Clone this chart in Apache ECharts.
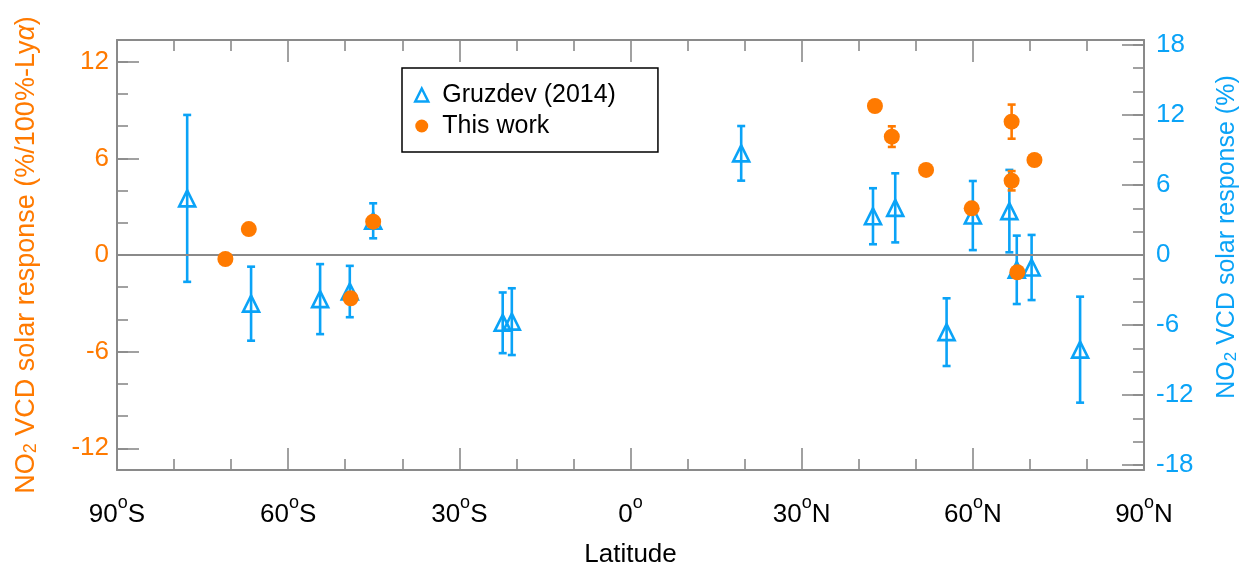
<!DOCTYPE html>
<html>
<head>
<meta charset="utf-8">
<script src="https://cdn.jsdelivr.net/npm/echarts@6/dist/echarts.min.js"></script>
<style>
html,body{margin:0;padding:0;background:#fff;}
#chart{width:1246px;height:571px;}
</style>
</head>
<body>
<div id="chart"></div>
<script>
// ---- Data ----
const gruzLat = [-77.7, -66.5, -54.4, -49.2, -45.1, -22.4, -20.8, 19.4, 42.5, 46.4, 55.4, 60.0, 66.4, 67.7, 70.3, 78.8];
const gruzVal = [4.85, -4.17, -3.78, -3.13, 2.93, -5.81, -5.71, 8.71, 3.32, 4.04, -6.61, 3.38, 3.76, -1.27, -1.07, -8.11];
const gruzErr = [7.15, 3.17, 3.0, 2.2, 1.5, 2.6, 2.86, 2.34, 2.4, 2.96, 2.9, 2.96, 3.53, 2.93, 2.79, 4.54];

const workLat = [-71.0, -66.9, -49.05, -45.1, 42.84, 45.8, 51.8, 59.8, 66.8, 66.8, 70.8, 67.8];
const workVal = [-0.25, 1.61, -2.69, 2.07, 9.25, 7.35, 5.28, 2.9, 8.28, 4.61, 5.9, -1.07];
const workErr = [0, 0, 0, 0, 0, 0.64, 0, 0, 1.06, 0.6, 0, 0];

const leftLabels = [-12, -6, 0, 6, 12];
const leftMinorTicks = [-12, -10, -8, -6, -4, -2, 0, 2, 4, 6, 8, 10, 12];
const rightLabels = [-18, -12, -6, 0, 6, 12, 18];
const rightMinorTicks = [-18, -16, -14, -12, -10, -8, -6, -4, -2, 0, 2, 4, 6, 8, 10, 12, 14, 16, 18];

const seriesNames = ['Gruzdev (2014)', 'This work'];

// ---- Styles ----
const ORANGE = '#FF7A00';
const BLUE = '#0AA3F7';
const GRAY = '#8a8a8a';
const FONT = '"Liberation Sans", Arial, Helvetica, sans-serif';

function latLabel(v) {
  if (v < 0) return '{n|' + (-v) + '}{o|o}{n|S}';
  if (v > 0) return '{n|' + v + '}{o|o}{n|N}';
  return '{n|0}{o|o}';
}

function errRender(color) {
  return function (params, api) {
    const x = api.value(0), v = api.value(1), e = api.value(2);
    if (!e) return null;
    const top = api.coord([x, v + e]);
    const bot = api.coord([x, v - e]);
    const cw = 4;
    const st = { stroke: color, lineWidth: 2.6 };
    return {
      type: 'group',
      children: [
        { type: 'line', shape: { x1: top[0], y1: top[1], x2: bot[0], y2: bot[1] }, style: st },
        { type: 'line', shape: { x1: top[0] - cw, y1: top[1], x2: top[0] + cw, y2: top[1] }, style: st },
        { type: 'line', shape: { x1: bot[0] - cw, y1: bot[1], x2: bot[0] + cw, y2: bot[1] }, style: st }
      ]
    };
  };
}

const chart = echarts.init(document.getElementById('chart'), null, { renderer: 'canvas' });

const tickStyle = { color: GRAY, width: 1.6 };

const option = {
  backgroundColor: '#fff',
  animation: false,
  textStyle: { fontFamily: FONT },
  grid: { left: 117, right: 102, top: 40, bottom: 101, containLabel: false, outerBoundsMode: 'none' },
  legend: {
    left: 402, top: 68,
    orient: 'vertical',
    padding: [13, 42, 12, 12],
    itemGap: 3,
    itemWidth: 13, itemHeight: 13,
    borderColor: '#000', borderWidth: 1.5, borderRadius: 0,
    backgroundColor: '#fff',
    textStyle: { fontSize: 25, color: '#000', fontFamily: FONT, lineHeight: 28, padding: [0, 0, 0, 9] },
    data: [
      { name: seriesNames[0], icon: 'triangle', itemStyle: { color: 'rgba(0,0,0,0)', borderColor: BLUE, borderWidth: 2.5 } },
      { name: seriesNames[1], icon: 'circle', itemStyle: { color: ORANGE, borderWidth: 0 } }
    ]
  },
  xAxis: [
    {
      type: 'value', position: 'bottom', min: -90, max: 90, interval: 30,
      name: 'Latitude', nameLocation: 'middle', nameGap: 72,
      nameTextStyle: { fontSize: 26, color: '#000', fontFamily: FONT },
      axisLine: { show: true, onZero: false, lineStyle: { color: GRAY, width: 2 } },
      axisTick: { show: true, inside: true, length: 22, lineStyle: tickStyle },
      minorTick: { show: true, splitNumber: 3, length: 11, lineStyle: tickStyle },
      axisLabel: {
        formatter: latLabel, margin: 24,
        rich: {
          n: { fontSize: 26, color: '#000', fontFamily: FONT, lineHeight: 34, verticalAlign: 'bottom' },
          o: { fontSize: 18, color: '#000', fontFamily: FONT, lineHeight: 18, padding: [0, 0, 16, 0], verticalAlign: 'bottom' }
        }
      },
      splitLine: { show: false }
    },
    {
      type: 'value', position: 'top', min: -90, max: 90, interval: 30,
      axisLine: { show: true, onZero: false, lineStyle: { color: GRAY, width: 2 } },
      axisTick: { show: true, inside: true, length: 22, lineStyle: tickStyle },
      minorTick: { show: true, splitNumber: 3, length: 11, lineStyle: tickStyle },
      axisLabel: { show: false },
      splitLine: { show: false }
    }
  ],
  yAxis: [
    {
      type: 'value', position: 'left', min: -13.35, max: 13.35,
      name: 'NO{sub|2} VCD solar response (%/100%-Ly{g|α})',
      nameLocation: 'middle', nameGap: 77, nameRotate: 90,
      nameTextStyle: {
        fontSize: 27, color: ORANGE, fontFamily: FONT,
        rich: {
          sub: { fontSize: 18, color: ORANGE, fontFamily: FONT, lineHeight: 18, padding: [18, 0, 0, 0], verticalAlign: 'bottom' },
          g: { fontSize: 27, color: ORANGE, fontFamily: FONT, fontStyle: 'italic' }
        }
      },
      axisLine: { show: true, onZero: false, lineStyle: { color: GRAY, width: 2 } },
      axisTick: { show: true, inside: true, length: 11, lineStyle: tickStyle, customValues: leftMinorTicks },
      axisLabel: { customValues: leftLabels, fontSize: 26, color: ORANGE, margin: 8, fontFamily: FONT },
      splitLine: { show: false }
    },
    {
      type: 'value', position: 'left', min: -13.35, max: 13.35, offset: 0,
      axisLine: { show: false, onZero: false },
      axisTick: { show: true, inside: true, length: 22, lineStyle: tickStyle, customValues: leftLabels },
      axisLabel: { show: false },
      splitLine: { show: false }
    },
    {
      type: 'value', position: 'right', min: -18.42, max: 18.42, offset: 0,
      name: 'NO{sub|2} VCD solar response (%)',
      nameLocation: 'middle', nameGap: 62, nameRotate: 90,
      nameTextStyle: {
        fontSize: 25, color: BLUE, fontFamily: FONT, padding: [0, 0, 0, 36],
        rich: {
          sub: { fontSize: 17, color: BLUE, fontFamily: FONT, lineHeight: 17, padding: [18, 0, 0, 0], verticalAlign: 'bottom' }
        }
      },
      axisLine: { show: true, onZero: false, lineStyle: { color: GRAY, width: 2 } },
      axisTick: { show: true, inside: true, length: 11, lineStyle: tickStyle, customValues: rightMinorTicks },
      axisLabel: { customValues: rightLabels, fontSize: 26, color: BLUE, margin: 12, fontFamily: FONT },
      splitLine: { show: false }
    },
    {
      type: 'value', position: 'right', min: -18.42, max: 18.42, offset: 0,
      axisLine: { show: false, onZero: false },
      axisTick: { show: true, inside: true, length: 22, lineStyle: tickStyle, customValues: rightLabels },
      axisLabel: { show: false },
      splitLine: { show: false }
    }
  ],
  series: [
    {
      name: 'zero', type: 'line', xAxisIndex: 0, yAxisIndex: 0, data: [], silent: true, z: 1,
      markLine: {
        silent: true, symbol: ['none', 'none'], label: { show: false },
        lineStyle: { color: GRAY, width: 2, type: 'solid' },
        data: [{ yAxis: 0 }]
      }
    },
    {
      name: 'gruzErr', type: 'custom', xAxisIndex: 0, yAxisIndex: 2, z: 2,
      renderItem: errRender(BLUE),
      data: gruzLat.map((x, i) => [x, gruzVal[i], gruzErr[i]])
    },
    {
      name: seriesNames[0], type: 'scatter', xAxisIndex: 0, yAxisIndex: 2, z: 3,
      symbol: 'triangle', symbolSize: [16, 16],
      itemStyle: { color: 'rgba(0,0,0,0)', borderColor: BLUE, borderWidth: 2.6, opacity: 1 },
      data: gruzLat.map((x, i) => [x, gruzVal[i]])
    },
    {
      name: 'workErr', type: 'custom', xAxisIndex: 0, yAxisIndex: 0, z: 4,
      renderItem: errRender(ORANGE),
      data: workLat.map((x, i) => [x, workVal[i], workErr[i]])
    },
    {
      name: seriesNames[1], type: 'scatter', xAxisIndex: 0, yAxisIndex: 0, z: 5,
      symbol: 'circle', symbolSize: 16,
      itemStyle: { color: ORANGE, opacity: 1 },
      data: workLat.map((x, i) => [x, workVal[i]])
    }
  ]
};

chart.setOption(option);
</script>
</body>
</html>
